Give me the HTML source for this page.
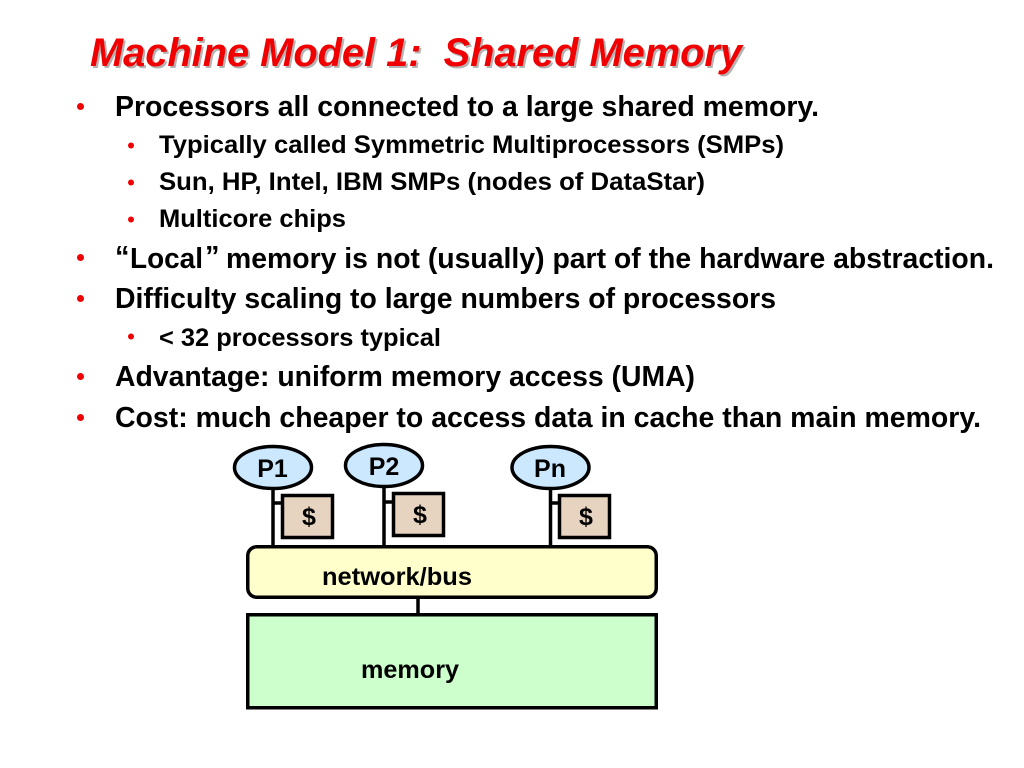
<!DOCTYPE html>
<html>
<head>
<meta charset="utf-8">
<style>
html,body{margin:0;padding:0;background:#fff;width:1024px;height:768px;overflow:hidden}
svg{display:block}
text{font-family:"Liberation Sans",Arial,sans-serif;font-weight:bold;fill:#000}
.l1{font-size:29px}
.l2{font-size:25px}
.b{fill:#f00000}
.d{font-size:25px}
.s{stroke:#000;stroke-width:3.5;fill:none}
</style>
</head>
<body>
<svg width="1024" height="768" viewBox="0 0 1024 768" xmlns="http://www.w3.org/2000/svg">
<rect width="1024" height="768" fill="#fff"/>
<text x="92" y="68" font-size="40" font-style="italic" style="fill:#b4b4b4" textLength="652" lengthAdjust="spacingAndGlyphs" xml:space="preserve">Machine Model 1:  Shared Memory</text>
<text x="90" y="66" font-size="40" font-style="italic" style="fill:#f00000" textLength="652" lengthAdjust="spacingAndGlyphs" xml:space="preserve">Machine Model 1:  Shared Memory</text>

<circle class="b" cx="80.5" cy="106.5" r="3.5"/>
<circle class="b" cx="131" cy="145.5" r="3"/>
<circle class="b" cx="131" cy="182.5" r="3"/>
<circle class="b" cx="131" cy="219.5" r="3"/>
<circle class="b" cx="80.5" cy="257.5" r="3.5"/>
<circle class="b" cx="80.5" cy="298.5" r="3.5"/>
<circle class="b" cx="131" cy="336.5" r="3"/>
<circle class="b" cx="80.5" cy="376.5" r="3.5"/>
<circle class="b" cx="80.5" cy="417.5" r="3.5"/>

<text class="l1" x="115" y="116" textLength="704" lengthAdjust="spacingAndGlyphs">Processors all connected to a large shared memory.</text>
<text class="l2" x="159" y="153" textLength="625" lengthAdjust="spacingAndGlyphs">Typically called Symmetric Multiprocessors (SMPs)</text>
<text class="l2" x="159" y="190" textLength="546" lengthAdjust="spacingAndGlyphs">Sun, HP, Intel, IBM SMPs (nodes of DataStar)</text>
<text class="l2" x="159" y="227" textLength="187" lengthAdjust="spacingAndGlyphs">Multicore chips</text>
<text class="l1" x="115" y="266">“</text>
<text class="l1" x="130" y="268" textLength="73" lengthAdjust="spacingAndGlyphs">Local</text>
<text class="l1" x="205" y="266">”</text>
<text class="l1" x="226" y="268" textLength="768" lengthAdjust="spacingAndGlyphs">memory is not (usually) part of the hardware abstraction.</text>
<text class="l1" x="115" y="308" textLength="661" lengthAdjust="spacingAndGlyphs">Difficulty scaling to large numbers of processors</text>
<text class="l2" x="159" y="346" textLength="282" lengthAdjust="spacingAndGlyphs">&lt; 32 processors typical</text>
<text class="l1" x="115" y="386" textLength="580" lengthAdjust="spacingAndGlyphs">Advantage: uniform memory access (UMA)</text>
<text class="l1" x="115" y="427" textLength="866" lengthAdjust="spacingAndGlyphs">Cost: much cheaper to access data in cache than main memory.</text>

<!-- connectors -->
<g stroke="#000" stroke-width="3.5" fill="none">
<path d="M273 488V547M273 503H283"/>
<path d="M384 486V547M384 502H394"/>
<path d="M550.5 488V547M550 503H560"/>
<path d="M418 597V615"/>
</g>

<!-- processors -->
<ellipse class="s" cx="273" cy="467.5" rx="38.5" ry="21" style="fill:#cce8ff"/>
<ellipse class="s" cx="384" cy="465.5" rx="38.5" ry="21" style="fill:#cce8ff"/>
<ellipse class="s" cx="550.5" cy="467.5" rx="38.5" ry="21" style="fill:#cce8ff"/>
<text class="d" x="272.5" y="477" text-anchor="middle">P1</text>
<text class="d" x="384" y="475" text-anchor="middle">P2</text>
<text class="d" x="550" y="477" text-anchor="middle">Pn</text>

<!-- caches -->
<rect class="s" x="282.5" y="495.5" width="50" height="42" style="fill:#e6d3c0"/>
<rect class="s" x="393.5" y="493.5" width="50" height="42" style="fill:#e6d3c0"/>
<rect class="s" x="559.5" y="495.5" width="50" height="42" style="fill:#e6d3c0"/>
<text class="d" x="309" y="525" text-anchor="middle">$</text>
<text class="d" x="420" y="523" text-anchor="middle">$</text>
<text class="d" x="586" y="525" text-anchor="middle">$</text>

<!-- bus -->
<rect class="s" x="247.75" y="546.75" width="408.5" height="50.5" rx="9" ry="9" style="fill:#ffffcc"/>
<text class="d" x="322" y="585" textLength="150" lengthAdjust="spacingAndGlyphs">network/bus</text>

<!-- memory -->
<rect class="s" x="247.75" y="614.75" width="408.5" height="93" style="fill:#ccffcc"/>
<text class="d" x="361" y="678" textLength="98" lengthAdjust="spacingAndGlyphs">memory</text>
</svg>
</body>
</html>
